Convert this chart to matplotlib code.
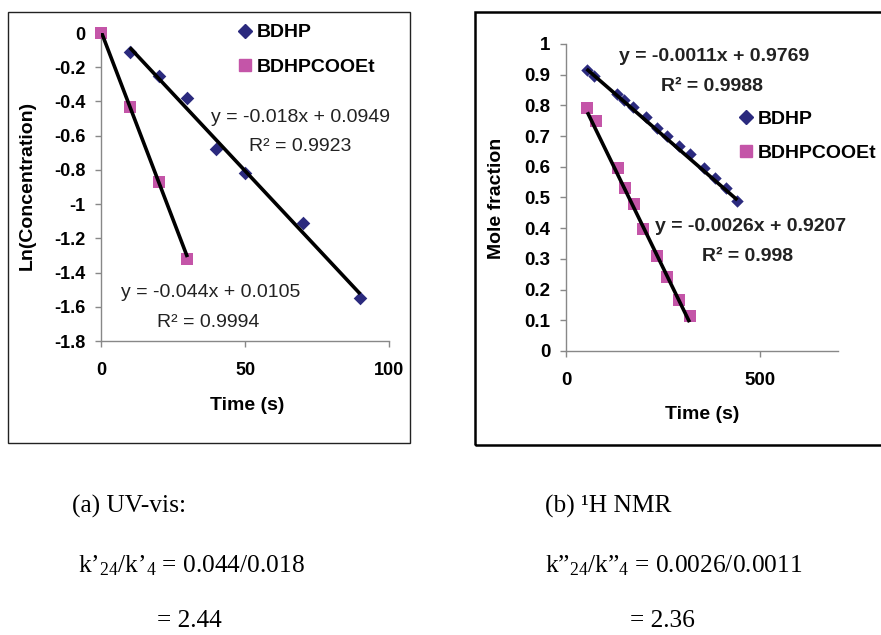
import matplotlib
matplotlib.use("Agg")
import matplotlib.pyplot as plt
from matplotlib.patches import Rectangle
from matplotlib.lines import Line2D
from matplotlib.ticker import FuncFormatter
import numpy as np

plt.rcParams["font.family"] = ["Liberation Sans", "DejaVu Sans"]
plt.rcParams["axes.unicode_minus"] = False
plt.rcParams["mathtext.fontset"] = "custom"
plt.rcParams["mathtext.rm"] = "Liberation Serif"
plt.rcParams["mathtext.it"] = "Liberation Serif:italic"

# (a) UV-vis data
uv_time_bdhp = [10, 20, 30, 40, 50, 70, 90]
uv_ln_bdhp = [-0.11, -0.25, -0.38, -0.68, -0.82, -1.11, -1.55]
uv_time_ester = [0, 10, 20, 30]
uv_ln_ester = [0.0, -0.43, -0.87, -1.32]
uv_fit_bdhp = (-0.018, 0.0949, 0.9923)
uv_fit_ester = (-0.044, 0.0105, 0.9994)

# (b) 1H NMR data
nmr_time_bdhp = [53, 72, 130, 150, 173, 205, 233, 261, 291, 318, 355, 384, 413, 441]
nmr_frac_bdhp = [0.916, 0.897, 0.837, 0.816, 0.794, 0.762, 0.726, 0.699,
                 0.668, 0.642, 0.596, 0.563, 0.530, 0.489]
nmr_time_ester = [55, 77, 133, 153, 175, 199, 233, 260, 291, 318]
nmr_frac_ester = [0.791, 0.748, 0.596, 0.530, 0.478, 0.397, 0.310, 0.240, 0.166, 0.114]
nmr_fit_bdhp = (-0.0011, 0.9769, 0.9988)
nmr_fit_ester = (-0.0026, 0.9207, 0.998)

series_names = ["BDHP", "BDHPCOOEt"]
navy = "#2B2A7E"
magenta = "#C455A8"
W, H = 881, 635


def fx(px):
    return px / W


def fy(py):
    return 1 - py / H


def fit_line(ax, xs, fit):
    x = np.array([min(xs), max(xs)])
    ax.plot(x, fit[0] * x + fit[1], color="black", lw=2.6, zorder=4,
            solid_capstyle="butt")


def eq_text(fit):
    return f"y = {fit[0]:g}x + {fit[1]:g}", f"R² = {fit[2]:g}"


def tick_fmt(v, pos):
    v = round(v, 2)
    if v == 0:
        return "0"
    return f"{v:g}"


def style_axes(ax, tick_size):
    for s in ["top", "right"]:
        ax.spines[s].set_visible(False)
    for s in ["left", "bottom"]:
        ax.spines[s].set_color("#888888")
        ax.spines[s].set_linewidth(1.0)
    ax.tick_params(direction="out", length=4, width=1, color="#888888",
                   labelsize=tick_size)
    ax.tick_params(axis="x", pad=11)
    ax.tick_params(axis="y", pad=7)
    ax.yaxis.set_major_formatter(FuncFormatter(tick_fmt))
    for lab in ax.get_xticklabels() + ax.get_yticklabels():
        lab.set_fontweight("bold")


fig = plt.figure(figsize=(W / 100, H / 100), dpi=100)

# frames
fig.patches.append(Rectangle((fx(8), fy(443)), fx(402), 431 / H, fill=False,
                             edgecolor="#222222", lw=1.0, transform=fig.transFigure))
fig.patches.append(Rectangle((fx(475), fy(445)), fx(420), 433 / H, fill=False,
                             edgecolor="black", lw=1.8, transform=fig.transFigure))

# ---- left panel
ax1 = fig.add_axes([fx(101), fy(341), fx(288), 308 / H])
ax1.scatter(uv_time_bdhp, uv_ln_bdhp, marker="D", s=48, color=navy, zorder=3,
            clip_on=False, linewidths=0)
ax1.scatter(uv_time_ester, uv_ln_ester, marker="s", s=85, color=magenta, zorder=3,
            clip_on=False, linewidths=0)
fit_line(ax1, uv_time_bdhp, uv_fit_bdhp)
fit_line(ax1, uv_time_ester, uv_fit_ester)
ax1.set_xlim(0, 100)
ax1.set_ylim(-1.8, 0)
ax1.set_xticks([0, 50, 100])
ax1.set_yticks(np.arange(-1.8, 0.01, 0.2))
style_axes(ax1, 13)
ax1.set_xlabel("Time (s)", fontsize=14, fontweight="bold", va="center")
ax1.set_ylabel("Ln(Concentration)", fontsize=14, fontweight="bold", va="center")
ax1.xaxis.set_label_coords(0.507, -0.208)
ax1.yaxis.set_label_coords(-0.257, 0.506)
t1, r1 = eq_text(uv_fit_bdhp)
ax1.text(69.4, -0.491, t1, fontsize=14, ha="center", va="center", color="#222222")
ax1.text(69.1, -0.666, r1, fontsize=14, ha="center", va="center", color="#222222")
t2, r2 = eq_text(uv_fit_ester)
ax1.text(38.2, -1.519, t2, fontsize=14, ha="center", va="center", color="#222222")
ax1.text(37.2, -1.689, r2, fontsize=14, ha="center", va="center", color="#222222")

handles = [Line2D([], [], ls="none", marker="D", ms=7, color=navy),
           Line2D([], [], ls="none", marker="s", ms=9, color=magenta)]
leg_font = {"size": 14, "weight": "bold"}
ax1.legend(handles, series_names, loc="upper left", bbox_to_anchor=(0.472, 1.03),
           frameon=False, prop=leg_font, handlelength=0.8, handletextpad=0.2,
           labelspacing=0.85, borderpad=0, borderaxespad=0)

# ---- right panel
ax2 = fig.add_axes([fx(566), fy(351), fx(272), 307 / H])
ax2.scatter(nmr_time_bdhp, nmr_frac_bdhp, marker="D", s=40, color=navy, zorder=3,
            clip_on=False, linewidths=0)
ax2.scatter(nmr_time_ester, nmr_frac_ester, marker="s", s=80, color=magenta, zorder=3,
            clip_on=False, linewidths=0)
fit_line(ax2, nmr_time_bdhp, nmr_fit_bdhp)
fit_line(ax2, nmr_time_ester, nmr_fit_ester)
ax2.set_xlim(0, 700)
ax2.set_ylim(0, 1)
ax2.set_xticks([0, 500])
ax2.set_yticks(np.arange(0, 1.01, 0.1))
style_axes(ax2, 13.5)
ax2.set_xlabel("Time (s)", fontsize=14, fontweight="bold", va="center")
ax2.set_ylabel("Mole fraction", fontsize=14, fontweight="bold", va="center")
ax2.xaxis.set_label_coords(0.5, -0.208)
ax2.yaxis.set_label_coords(-0.254, 0.498)
t3, r3 = eq_text(nmr_fit_bdhp)
ax2.text(380, 0.958, t3, fontsize=14, fontweight="bold", ha="center", va="center", color="#222222")
ax2.text(375, 0.863, r3, fontsize=14, fontweight="bold", ha="center", va="center", color="#222222")
t4, r4 = eq_text(nmr_fit_ester)
ax2.text(475, 0.407, t4, fontsize=14, fontweight="bold", ha="center", va="center", color="#222222")
ax2.text(467, 0.309, r4, fontsize=14, fontweight="bold", ha="center", va="center", color="#222222")
ax2.legend(handles, series_names, loc="upper left", bbox_to_anchor=(0.632, 0.785),
           frameon=False, prop=leg_font, handlelength=0.8, handletextpad=0.2,
           labelspacing=0.85, borderpad=0, borderaxespad=0)

# ---- captions
serif = {"family": "Liberation Serif", "size": 18.3}
fig.text(fx(72), fy(513), "(a) UV-vis:", va="baseline", **serif)
fig.text(fx(78), fy(572), "k’$_\\mathrm{24}$/k’$_\\mathrm{4}$ = 0.044/0.018", va="baseline", **serif)
fig.text(fx(157), fy(627), "= 2.44", va="baseline", **serif)
fig.text(fx(545), fy(513), "(b) ¹H NMR", va="baseline", **serif)
fig.text(fx(545), fy(572), "k”$_\\mathrm{24}$/k”$_\\mathrm{4}$ = 0.0026/0.0011", va="baseline", **serif)
fig.text(fx(630), fy(627), "= 2.36", va="baseline", **serif)

fig.savefig("out.png", dpi=100)
